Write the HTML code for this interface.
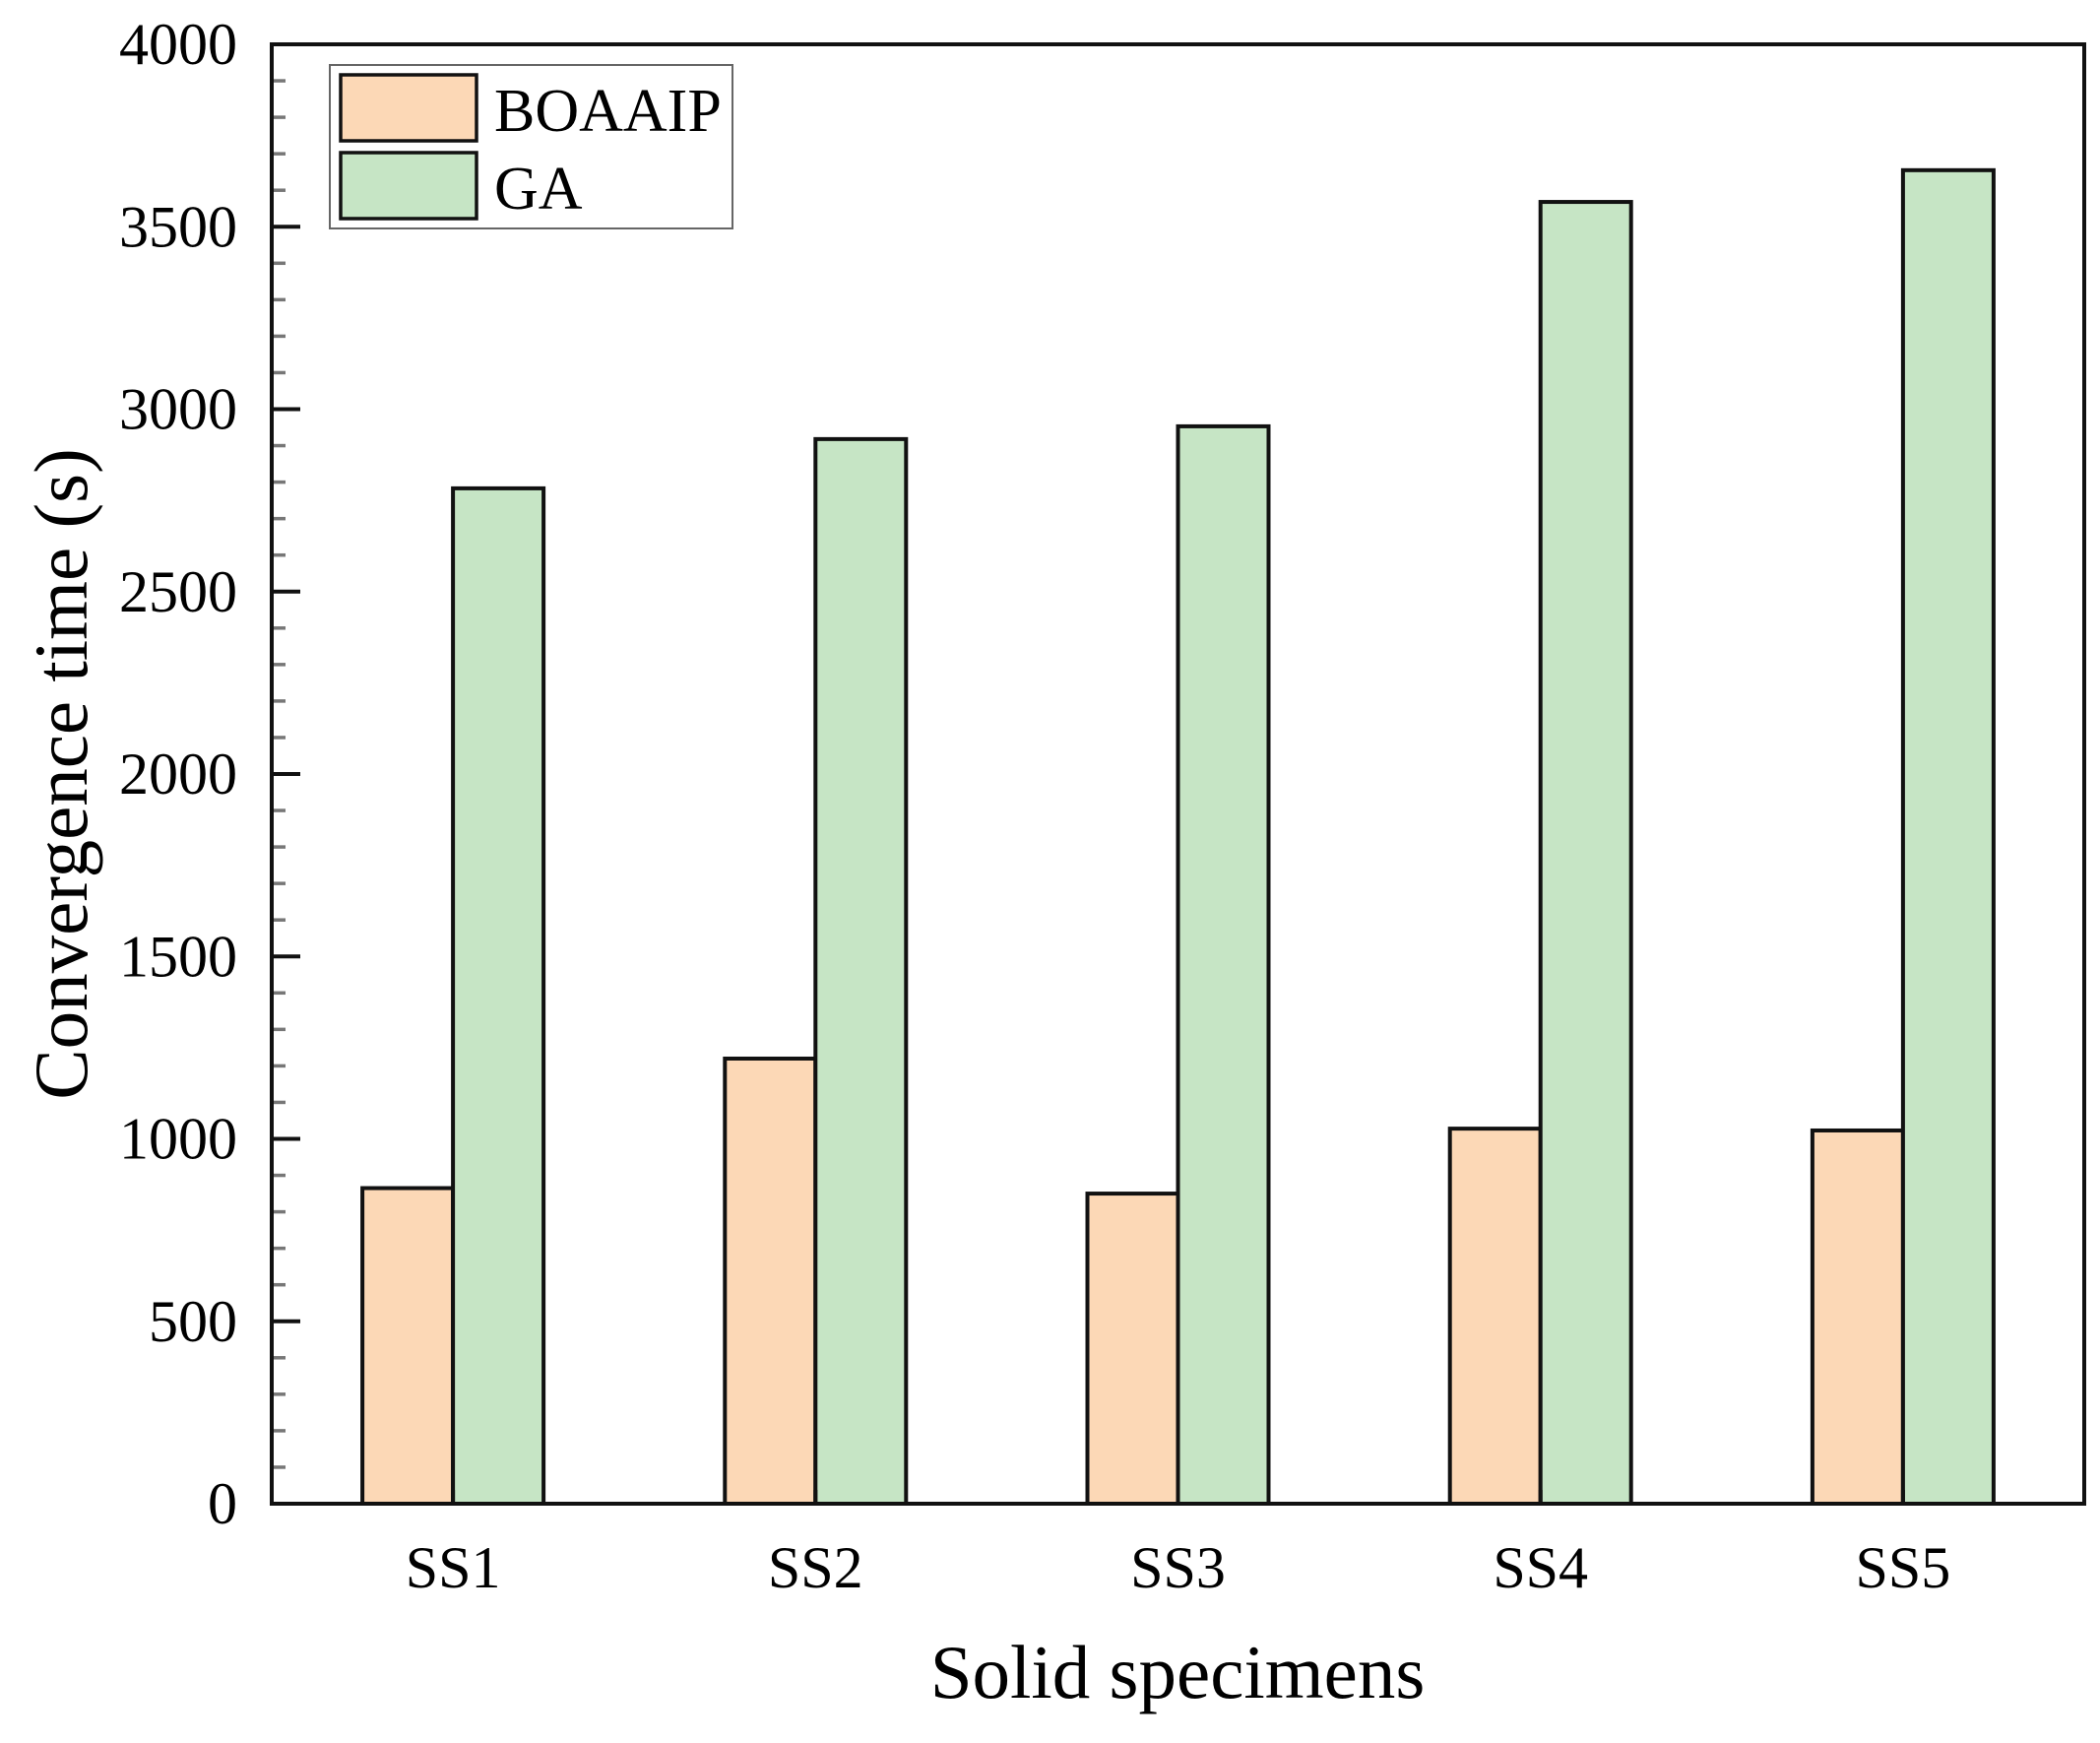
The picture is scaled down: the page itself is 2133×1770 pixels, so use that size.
<!DOCTYPE html>
<html><head><meta charset="utf-8"><style>
html,body{margin:0;padding:0;background:#fff;}
svg{display:block;font-family:"Liberation Serif","Times New Roman",serif;}
</style></head><body>
<svg id="chart" width="2133" height="1770" viewBox="0 0 2133 1770" xmlns="http://www.w3.org/2000/svg">
<g id="plot"></g>
</svg>
<script>
const categories = ["SS1","SS2","SS3","SS4","SS5"];
const boaaipValues = [865, 1220, 850, 1028, 1023];
const gaValues = [2783, 2918, 2953, 3568, 3655];
const yTicks = [0,500,1000,1500,2000,2500,3000,3500,4000];
const seriesNames = ["BOAAIP","GA"];

const NS="http://www.w3.org/2000/svg";
const L=276,R=2117,T=45,B=1527;
const yMax=4000;
function y(v){return B-(v/yMax)*(B-T);}
function x(i){return L+(i+0.5)*(R-L)/categories.length;}
const barW=92;
const g=document.getElementById('plot');
function mk(tag,attrs){const e=document.createElementNS(NS,tag);for(const k in attrs)e.setAttribute(k,attrs[k]);g.appendChild(e);return e;}

// bars
categories.forEach((c,i)=>{
  const cx=x(i);
  const b1=mk('rect',{x:cx-barW,y:y(boaaipValues[i]),width:barW,height:B-y(boaaipValues[i]),fill:'#fcd8b6',stroke:'#111','stroke-width':4});
  
  
  const b2=mk('rect',{x:cx,y:y(gaValues[i]),width:barW,height:B-y(gaValues[i]),fill:'#c6e5c5',stroke:'#111','stroke-width':4});
  
  
  const tk=mk('line',{x1:cx,x2:cx,y1:B,y2:B-14,stroke:'#111','stroke-width':4});
  
  
  const t=mk('text',{x:cx,y:1612,'text-anchor':'middle','font-size':60});
  t.textContent=c;
  
  
});

// y ticks
for(let v=0;v<=yMax;v+=100){
  const major=v%500===0;
  const tk=mk('line',{x1:L,x2:L+(major?29:14),y1:y(v),y2:y(v),stroke:major?'#111':'#777','stroke-width':major?4:3.5});
  
  
}
yTicks.forEach(v=>{
  const t=mk('text',{x:241,y:y(v)+20,'text-anchor':'end','font-size':60});
  t.textContent=v;
  
  
});

// frame
const fr=mk('rect',{x:L,y:T,width:R-L,height:B-T,fill:'none',stroke:'#111','stroke-width':4});



// axis titles
const xt=mk('text',{x:1196,y:1724,'text-anchor':'middle','font-size':77});
xt.textContent='Solid specimens';


const yt=mk('text',{x:0,y:0,'text-anchor':'middle','font-size':77,transform:'translate(88,786) rotate(-90)'});
yt.textContent='Convergence time (s)';



// legend
const lg=mk('rect',{x:335,y:66,width:409,height:166,fill:'#fff',stroke:'#666','stroke-width':2});


const colors=['#fcd8b6','#c6e5c5'];
seriesNames.forEach((n,i)=>{
  const py=76+i*79;
  const p=mk('rect',{x:346,y:py,width:138,height:67,fill:colors[i],stroke:'#111','stroke-width':3.5});
  
  
  const t=mk('text',{x:502,y:py+57,'font-size':62});
  t.textContent=n;
  
  
});
</script>
</body></html>
